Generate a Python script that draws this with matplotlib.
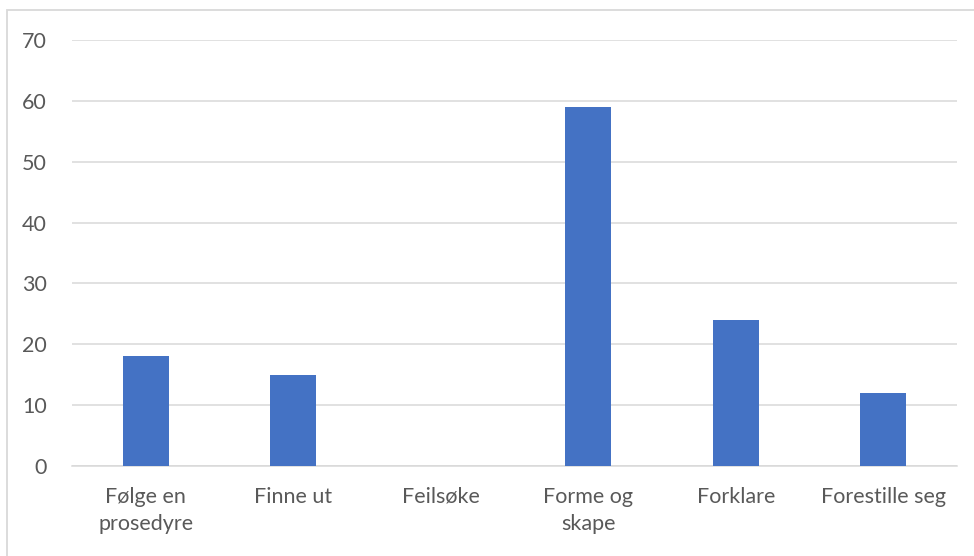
import matplotlib
matplotlib.use("Agg")
import matplotlib.pyplot as plt
from matplotlib.patches import Rectangle

categories = ["Følge en\nprosedyre", "Finne ut", "Feilsøke", "Forme og\nskape", "Forklare", "Forestille seg"]
values = [18, 15, 0, 59, 24, 12]
yticks = [0, 10, 20, 30, 40, 50, 60, 70]

plt.rcParams['font.family'] = ['Lato', 'DejaVu Sans']

fig = plt.figure(figsize=(9.74, 5.56), dpi=100)
fig.patches.append(Rectangle((7/974, -0.1), 1.2, 1 - 10/556 + 0.1, transform=fig.transFigure,
                             fill=False, edgecolor='#d9d9d9', linewidth=1.3))
ax = fig.add_axes([72/974, 1 - 466/556, 885/974, 426/556])

x = range(len(categories))
ax.bar(x, values, width=0.31, color='#4472c4', zorder=3)
ax.set_xlim(-0.5, len(categories) - 0.5)
ax.set_ylim(0, 70)
ax.set_yticks(yticks)
ax.set_xticks(list(x))
ax.set_xticklabels(categories, linespacing=1.45)
ax.grid(axis='y', color='#d9d9d9', linewidth=1.1, zorder=0)
for s in ['top', 'right', 'left']:
    ax.spines[s].set_visible(False)
ax.spines['bottom'].set_color('#d9d9d9')
ax.spines['bottom'].set_linewidth(1.1)
ax.tick_params(axis='both', length=0, labelsize=15.5, labelcolor='#595959')
ax.tick_params(axis='y', pad=18)
ax.tick_params(axis='x', pad=15)

fig.savefig("out.png", dpi=100)
